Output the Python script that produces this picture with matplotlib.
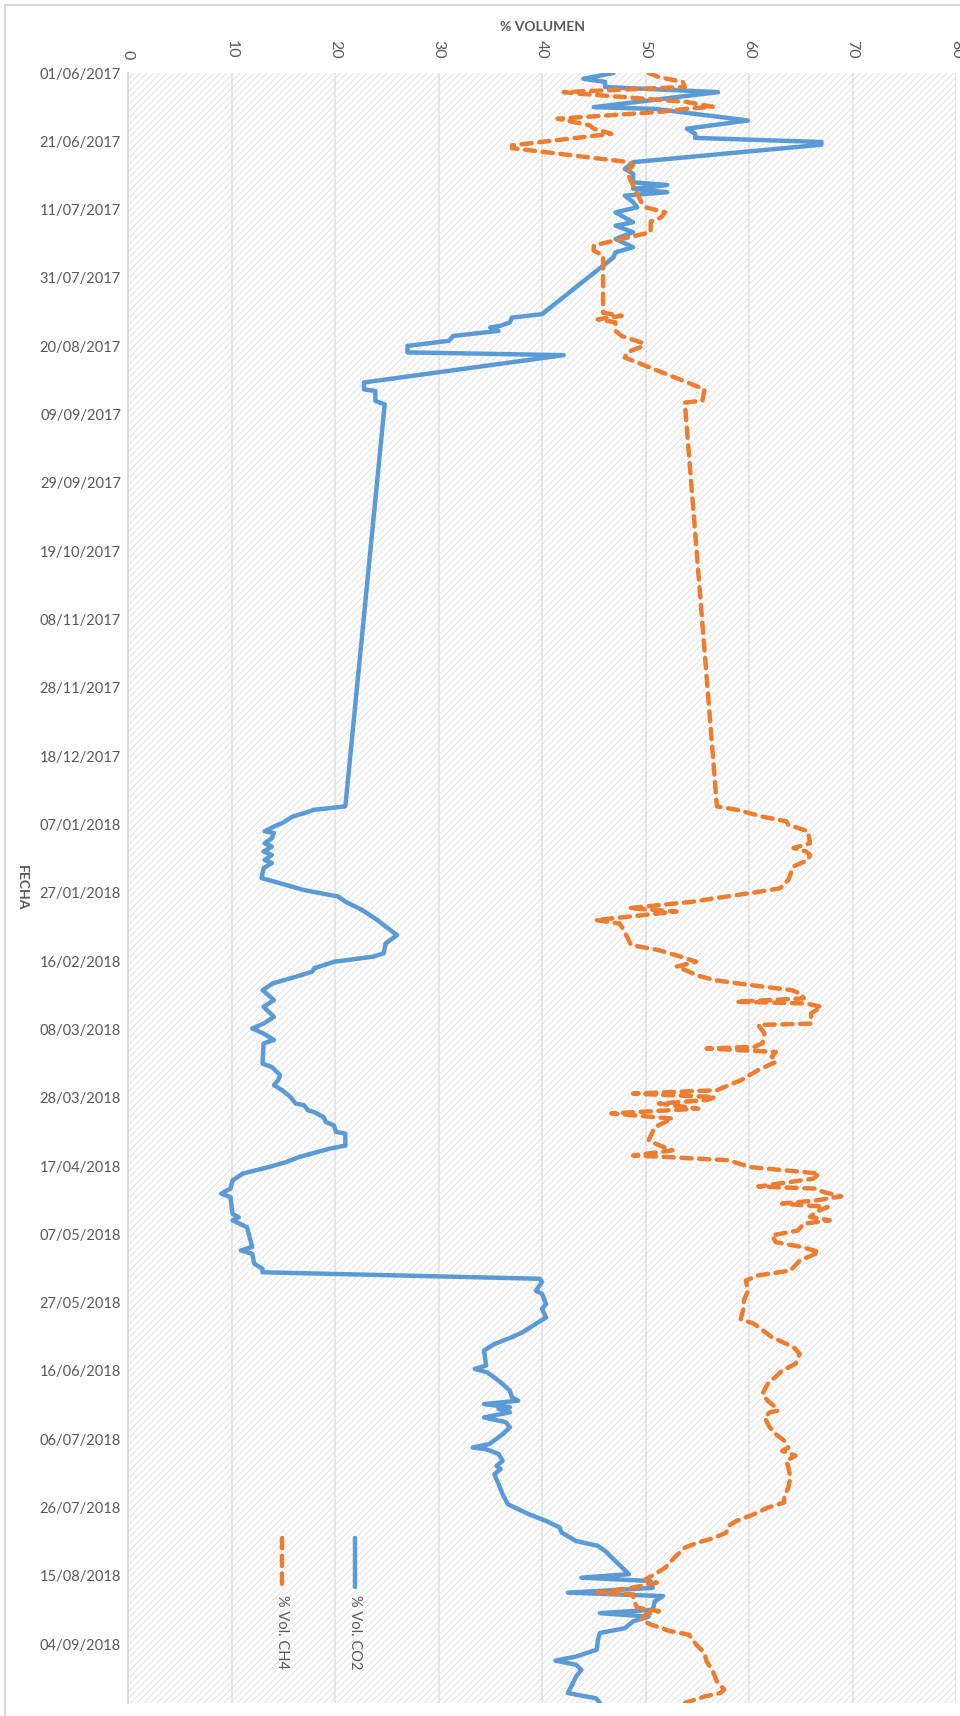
import matplotlib
matplotlib.use("Agg")
import matplotlib.pyplot as plt
import matplotlib.dates as mdates
import numpy as np
import pandas as pd
from matplotlib.patches import Rectangle
from matplotlib.lines import Line2D

START = pd.Timestamp("2017-06-01")

# days elapsed since START for every reading, and the gas content (% vol)
CO2_DAY = [
    0.0, 1.7, 2.6, 4.1, 5.6, 10.0, 10.5, 13.9, 16.3, 17.8, 19.0, 20.2, 21.0,
    26.1, 28.1, 29.5, 32.0, 32.8, 33.9, 34.9, 35.9, 37.8, 39.3, 40.8, 43.7,
    44.7, 46.6, 48.6, 51.0, 52.5, 54.0, 70.6, 71.6, 73.0, 74.0, 74.5, 75.5,
    77.0, 78.4, 79.9, 81.8, 82.6, 90.6, 92.6, 93.1, 96.0, 97.0, 214.7, 215.7,
    216.7, 217.7, 219.6, 220.6, 222.0, 222.5, 224.0, 225.5, 226.5, 227.9,
    228.9, 230.4, 231.3, 232.8, 235.7, 236.7, 239.2, 241.1, 242.6, 245.0,
    248.0, 249.9, 252.4, 254.8, 257.7, 258.7, 260.2, 262.1, 263.1, 264.6,
    266.5, 268.5, 271.4, 273.4, 276.3, 278.3, 279.7, 281.2, 283.1, 284.1,
    290.0, 291.0, 293.4, 294.9, 296.3, 297.8, 299.8, 301.7, 302.2, 303.7,
    304.2, 305.7, 307.1, 308.1, 310.0, 310.5, 314.0, 314.9, 317.3, 318.8,
    320.3, 322.2, 324.2, 326.6, 328.1, 329.1, 334.0, 335.0, 335.9, 337.9,
    343.7, 344.7, 345.7, 348.6, 350.1, 351.1, 353.0, 354.0, 356.5, 357.4,
    360.4, 361.8, 364.3, 366.2, 368.7, 370.1, 372.1, 374.0, 378.4, 379.4,
    380.4, 381.9, 383.8, 385.8, 387.7, 388.7, 389.7, 390.6, 391.1, 392.1,
    393.6, 395.0, 396.5, 398.5, 399.4, 401.4, 402.4, 402.9, 404.3, 406.3,
    407.8, 408.7, 410.2, 413.1, 416.1, 419.0, 421.9, 423.9, 425.8, 427.3,
    429.8, 431.2, 432.7, 439.5, 440.5, 441.5, 443.5, 444.9, 445.9, 447.4,
    449.9, 450.9, 451.9, 453.3, 455.3, 456.7, 458.7, 461.6, 463.6, 464.8,
    466.0, 467.5, 469.4, 471.9, 474.3, 475.8, 477.2,
]
CO2_PCT = [
    46.9, 44.0, 46.1, 46.1, 57.0, 45.0, 50.9, 59.9, 54.0, 54.8, 54.8, 67.0, 67.0,
    48.8, 48.0, 48.8, 48.8, 52.1, 48.8, 52.1, 48.0, 48.8, 49.2, 47.1, 48.8,
    47.1, 48.8, 47.1, 48.8, 47.1, 46.9, 40.0, 37.1, 36.9, 36.0, 35.0, 35.8,
    31.4, 31.0, 27.0, 27.0, 42.1, 22.8, 22.8, 23.9, 23.9, 24.8, 21.0, 18.0,
    17.0, 15.9, 14.9, 14.1, 13.2, 14.1, 13.9, 13.2, 13.9, 13.1,
    13.9, 13.2, 13.9, 13.1, 12.9, 14.1, 17.0, 20.3, 21.0, 22.6,
    24.1, 24.9, 26.0, 24.9, 24.7, 23.7, 19.9, 18.0, 17.8, 16.2,
    14.0, 13.0, 14.1, 13.1, 14.1, 13.1, 12.0, 13.1, 14.1, 13.1,
    13.0, 13.9, 14.7, 14.5, 14.1, 14.9, 15.7, 16.2, 17.0, 17.4,
    18.0, 18.9, 19.1, 19.9, 20.1, 21.0, 21.0, 19.5, 16.6, 15.3,
    13.6, 11.1, 10.1, 9.9, 9.0, 9.9, 10.1, 10.7, 10.1, 11.5,
    12.0, 10.9, 12.0, 12.2, 13.0, 13.0, 39.8, 40.0, 39.4, 40.0,
    40.4, 40.0, 40.4, 39.4, 38.1, 37.1, 35.4, 34.4, 34.6, 33.5,
    34.7, 35.4, 36.2, 36.9, 37.1, 37.7, 34.4, 36.9, 35.8, 36.9,
    34.4, 36.5, 36.9, 36.2, 35.8, 34.9, 33.3, 34.6, 35.8, 36.2,
    35.6, 36.0, 35.4, 35.8, 36.2, 36.7, 38.7, 40.4, 41.7, 41.9,
    43.3, 45.4, 46.1, 48.4, 43.8, 50.5, 50.7, 42.5, 51.7, 50.9,
    50.7, 45.6, 50.3, 48.8, 48.0, 45.6, 45.4, 45.3, 43.3, 41.3,
    43.3, 43.8, 43.3, 42.9, 42.5, 45.2, 45.6,
]

CH4_DAY = [
    0.0, 1.2, 2.6, 4.1, 5.6, 6.1, 8.5, 9.9, 10.4, 11.4, 13.4, 15.3, 16.3, 17.8,
    21.2, 22.0, 26.1, 27.1, 29.0, 33.0, 37.8, 39.3, 40.8, 42.3, 43.5, 46.6,
    50.5, 52.0, 53.5, 70.2, 71.1, 72.1, 73.0, 75.5, 77.0, 78.9, 79.9, 81.8,
    83.3, 92.6, 95.9, 96.5, 214.7, 215.7, 217.7, 219.1, 220.1, 222.0, 225.5,
    226.9, 227.9, 228.9, 230.4, 232.3, 236.2, 238.7, 240.1, 241.6, 242.6,
    244.5, 245.5, 248.0, 249.0, 250.9, 255.3, 256.8, 258.7, 260.2, 261.6,
    263.1, 264.1, 265.6, 267.0, 268.5, 269.5, 270.9, 271.9, 272.4, 273.4,
    275.3, 278.3, 278.7, 281.2, 284.1, 285.1, 285.6, 286.6, 288.0, 289.5,
    291.9, 294.9, 297.8, 298.8, 299.8, 300.7, 301.7, 303.2, 304.6, 306.1,
    308.6, 312.5, 313.9, 315.4, 316.9, 317.3, 318.3, 320.3, 322.2, 323.7,
    326.0, 326.6, 327.6, 328.9, 330.1, 331.0, 332.0, 333.5, 334.9, 335.9,
    336.9, 338.9, 340.3, 342.3, 343.7, 345.2, 347.7, 350.6, 352.0, 353.5,
    356.5, 359.4, 361.3, 364.8, 366.2, 370.1, 373.0, 375.0, 377.9, 379.9,
    383.8, 386.7, 388.7, 390.2, 391.6, 392.1, 393.6, 396.5, 398.5, 400.4,
    402.4, 403.4, 404.8, 406.3, 408.2, 411.2, 414.1, 417.0, 418.5, 420.0,
    421.9, 423.9, 425.4, 427.3, 428.8, 430.2, 431.7, 434.6, 437.6, 439.5,
    441.0, 442.0, 443.4, 444.9, 445.4, 446.9, 449.3, 450.3, 451.3, 452.8,
    454.2, 456.1, 457.2, 460.1, 462.6, 465.0, 467.9, 470.9, 473.3, 474.3,
    475.3, 477.2,
]
CH4_PCT = [
    50.3, 51.3, 53.6, 53.8, 42.1, 43.8, 54.0, 56.5, 54.2, 51.3, 41.5, 44.6, 45.0, 46.7,
    37.1, 37.1, 48.4, 48.8, 48.2, 48.8, 49.6, 50.0, 51.9, 51.5, 50.5, 50.5,
    45.0, 45.0, 45.9, 45.9, 47.7, 45.4, 47.1, 47.1, 47.7, 49.6, 49.8, 48.2,
    48.0, 55.7, 55.5, 53.8, 56.9, 58.8, 61.3, 63.6, 63.8, 65.7, 65.9,
    64.3, 65.5, 65.9, 65.7, 64.3, 63.8, 63.0, 60.1, 56.7, 54.6,
    48.4, 53.0, 45.2, 47.5, 47.9, 48.6, 51.3, 53.4, 54.9, 53.0,
    54.2, 54.9, 56.7, 60.1, 64.1, 65.0, 65.3, 58.8, 65.5, 67.0,
    66.0, 66.0, 60.9, 61.5, 61.3, 60.5, 55.9, 62.6, 62.2, 62.6,
    60.9, 59.2, 56.9, 48.8, 56.7, 55.9, 51.3, 55.1, 46.7, 52.6,
    50.9, 50.3, 51.3, 52.6, 48.8, 51.7, 58.0, 60.1, 66.8, 66.2,
    60.9, 66.4, 67.2, 68.9, 66.4, 63.2, 67.6, 66.4, 65.9, 67.8,
    65.3, 64.7, 62.2, 62.6, 65.1, 66.8, 64.9, 64.0, 60.9, 59.7,
    59.9, 59.5, 59.5, 59.2, 60.5, 62.2, 64.3, 64.9, 64.5, 63.2,
    61.8, 61.3, 61.8, 62.4, 62.8, 62.0, 61.5, 62.0, 62.6, 63.4,
    63.8, 63.2, 64.5, 63.6, 63.8, 64.0, 63.8, 63.4, 63.4, 61.8,
    60.5, 58.8, 58.0, 57.8, 56.7, 55.1, 53.8, 52.8, 51.9, 50.9,
    50.0, 51.1, 48.8, 45.4, 48.8, 48.8, 49.2, 51.3, 50.0, 49.6,
    50.5, 52.3, 54.2, 54.9, 55.7, 55.9, 56.5, 56.9, 57.6, 57.2,
    55.7, 53.8,
]

SERIES_NAMES = ["% Vol. CO2", "% Vol. CH4"]
X_TICKS = list(range(0, 81, 10))
DATE_STEP_DAYS = 20

BLUE = "#5B9BD5"
ORANGE = "#ED7D31"
TEXT = "#595959"
GRID = "#e2e2e2"
DASH = (0, (2.3, 1.7))

plt.rcParams["font.family"] = ["Lato", "DejaVu Sans"]
plt.rcParams["hatch.linewidth"] = 0.6


def to_dates(days):
    return START + pd.to_timedelta(np.asarray(days), unit="D")


co2_dates = to_dates(CO2_DAY)
ch4_dates = to_dates(CH4_DAY)
end = max(co2_dates[-1], ch4_dates[-1])

W, H = 960, 1716
fig = plt.figure(figsize=(W / 100, H / 100), dpi=100)
ax = fig.add_axes([128 / W, 1 - 1703 / H, 828 / W, 1630 / H])

# striped plot background
ax.patch.set_facecolor("white")
ax.add_patch(Rectangle((0, 0), 1, 1, transform=ax.transAxes, facecolor="white",
                       edgecolor="#dcdcdc", hatch="/////", linewidth=0, zorder=0.1))

ax.plot(CO2_PCT, co2_dates, color=BLUE, lw=3.2, solid_joinstyle="round",
        solid_capstyle="round", zorder=3)
ax.plot(CH4_PCT, ch4_dates, color=ORANGE, lw=3.2, linestyle=DASH,
        dash_capstyle="round", dash_joinstyle="round", zorder=4)

ax.set_xlim(0, 80)
ax.set_ylim(mdates.date2num(end), mdates.date2num(START))

ax.xaxis.tick_top()
ax.set_xticks(X_TICKS)
ax.set_xticklabels([str(v) for v in X_TICKS], rotation=270, fontsize=11.5,
                   color=TEXT)
ax.tick_params(axis="x", length=0, pad=10)
ax.grid(axis="x", color=GRID, lw=1.2)
ax.set_axisbelow(True)

ticks = [START + pd.Timedelta(days=DATE_STEP_DAYS * k)
         for k in range(int((end - START).days // DATE_STEP_DAYS) + 1)]
ax.set_yticks(mdates.date2num(ticks))
ax.yaxis.set_major_formatter(mdates.DateFormatter("%d/%m/%Y"))
ax.tick_params(axis="y", length=0, pad=5, labelsize=10.5, labelcolor=TEXT)

for side in ["top", "right", "bottom"]:
    ax.spines[side].set_visible(False)
ax.spines["left"].set_color("#d9d9d9")
ax.spines["left"].set_linewidth(1.4)

fig.text(542 / W, 1 - 27 / H, "% VOLUMEN", ha="center", va="center",
         fontsize=10, fontweight="bold", color=TEXT)
fig.text(22 / W, 1 - 888 / H, "FECHA", ha="center", va="center",
         rotation=270, fontsize=10, fontweight="bold", color=TEXT)

# vertical legend in the lower left of the plot
for name, color, style, xa in [(SERIES_NAMES[0], BLUE, "-", 0.274),
                               (SERIES_NAMES[1], ORANGE, DASH, 0.186)]:
    ax.add_line(Line2D([xa, xa], [0.101, 0.071], transform=ax.transAxes,
                       color=color, lw=3.2, linestyle=style,
                       solid_capstyle="round", dash_capstyle="round", zorder=5))
    ax.text(xa, 0.066, name, transform=ax.transAxes, rotation=270,
            ha="center", va="top", fontsize=10.5, color=TEXT, zorder=5)

# thin chart border
fig.add_artist(Line2D([5 / W, 1], [1 - 5 / H, 1 - 5 / H], color="#d9d9d9", lw=1.5))
fig.add_artist(Line2D([5 / W, 5 / W], [0, 1 - 5 / H], color="#d9d9d9", lw=1.5))

fig.savefig("out.png", dpi=100)
